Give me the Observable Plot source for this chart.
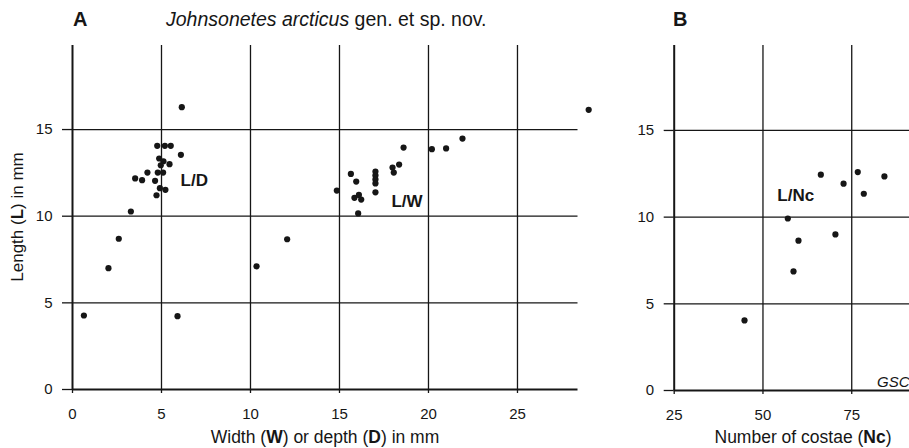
<!DOCTYPE html>
<html><head><meta charset="utf-8">
<script src="https://cdn.jsdelivr.net/npm/d3@7"></script>
<script src="https://cdn.jsdelivr.net/npm/@observablehq/plot@0.6"></script>
<style>
body{margin:0;background:#fff;}
#wrap{position:relative;width:909px;height:448px;overflow:hidden;font-family:"Liberation Sans",Arial,Helvetica,sans-serif;color:#161616;background:#fff;}
#wrap svg{position:absolute;top:0;overflow:visible;}
.abs{position:absolute;white-space:nowrap;}
</style></head><body><div id="wrap"></div>
<script>
// Panel A: length vs depth (L/D)
const ldDepth  = [6.14,4.76,5.19,5.52,6.09,4.87,5.11,5.45,4.96,4.21,4.79,5.09,3.52,3.91,4.64,4.91,5.22,4.72,3.28,2.60,2.02,0.64,5.90];
const ldLength = [16.29,14.06,14.06,14.06,13.54,13.33,13.17,13.0,12.94,12.52,12.52,12.52,12.18,12.08,12.04,11.62,11.52,11.21,10.27,8.70,7.0,4.27,4.23];
// Panel A: length vs width (L/W)
const lwWidth  = [29.0,21.91,18.6,20.19,20.99,18.35,17.98,18.05,17.02,17.02,17.02,17.02,17.02,15.64,15.94,14.85,15.84,16.09,16.22,16.05,12.06,10.34];
const lwLength = [16.14,14.48,13.96,13.87,13.91,12.98,12.81,12.52,12.58,12.35,12.12,11.89,11.38,12.44,12.0,11.48,11.06,11.23,10.96,10.16,8.67,7.11];
// Panel B: length vs number of costae (L/Nc)
const ncCount  = [66.3,76.7,84.2,72.7,78.4,57.0,70.4,60.0,58.6,44.8];
const ncLength = [12.45,12.6,12.35,11.93,11.35,9.92,9.0,8.64,6.87,4.04];
// Group labels
const labelsA = [{x: 6.07, y: 12.08, t: "L/D"}, {x: 17.92, y: 10.85, t: "L/W"}];
const labelsB = [{x: 54.05, y: 11.25, t: "L/Nc"}];
// Ticks
const xTicksA = [0,5,10,15,20,25];
const xTicksB = [25,50,75];
const yTicks  = [0,5,10,15];

const ink = "#161616";
const font = '"Liberation Sans",Arial,Helvetica,sans-serif';

const ptsA = ldDepth.map((d,i)=>({x:d, y:ldLength[i]}))
  .concat(lwWidth.map((w,i)=>({x:w, y:lwLength[i]})));
const ptsB = ncCount.map((n,i)=>({x:n, y:ncLength[i]}));

function panel(opts){
  return Plot.plot({
    width: opts.width, height: 448,
    marginLeft: opts.ml, marginRight: opts.mr, marginTop: 45, marginBottom: opts.mb,
    x: {domain: opts.xd}, y: {domain: opts.yd},
    style: {fontFamily: font, fontSize: "15px", color: ink, background: "transparent", overflow: "visible"},
    marks: [
      Plot.ruleY(yTicks.filter(d=>d>0), {stroke: ink, strokeWidth: 1.3}),
      Plot.ruleX(opts.xt.slice(1), {stroke: ink, strokeWidth: 1.3}),
      Plot.ruleX([opts.xd[0]], {stroke: ink, strokeWidth: 2}),
      Plot.ruleY([0], {stroke: ink, strokeWidth: 2}),
      Plot.axisX({ticks: opts.xt, tickSize: 4, tickPadding: 15, tickFormat: d=>String(d), strokeWidth: 1.3, label: null, fontSize: 15}),
      Plot.axisY({ticks: yTicks, tickSize: 10, tickPadding: 10, tickFormat: d=>String(d), strokeWidth: 1.3, label: null, fontSize: 15}),
      Plot.dot(opts.pts, {x: "x", y: "y", r: 3.1, fill: ink}),
      Plot.text(opts.labels, {x: "x", y: "y", text: "t", textAnchor: "start", lineAnchor: "middle", fontWeight: "bold", fontSize: 17, fill: ink})
    ]
  });
}

const wrap = document.getElementById("wrap");
const A = panel({width: 600, ml: 72, mr: 22.5, mb: 59, xd: [0, 28.4], yd: [0, 19.85], xt: xTicksA, pts: ptsA, labels: labelsA});
A.style.left = "0px";
wrap.appendChild(A);
const B = panel({width: 340, ml: 73.7, mr: 0, mb: 58, xd: [25, 100], yd: [0, 19.9], xt: xTicksB, pts: ptsB, labels: labelsB});
B.style.left = "600px";
wrap.appendChild(B);

function add(html, css){
  const d = document.createElement("div");
  d.className = "abs"; d.innerHTML = html; Object.assign(d.style, css);
  wrap.appendChild(d);
}
add("<b>A</b>", {left: "73px", top: "9px", fontSize: "20px", lineHeight: "20px"});
add("<i>Johnsonetes arcticus</i> gen. et sp. nov.", {left: "166px", top: "9px", fontSize: "19.5px", lineHeight: "20px"});
add("<b>B</b>", {left: "673px", top: "9px", fontSize: "20px", lineHeight: "20px"});
add("Length (<b>L</b>) in mm", {left: "17.5px", top: "217px", fontSize: "17px", lineHeight: "18px", transform: "translate(-50%,-50%) rotate(-90deg)"});
add("Width (<b>W</b>) or depth (<b>D</b>) in mm", {left: "325px", top: "428px", fontSize: "17.5px", lineHeight: "18px", transform: "translateX(-50%)"});
add("Number of costae (<b>Nc</b>)", {left: "803px", top: "428px", fontSize: "17.5px", lineHeight: "18px", transform: "translateX(-50%)"});
add("<i>GSC</i>", {left: "877px", top: "374px", fontSize: "15px", lineHeight: "15px"});
</script></body></html>
